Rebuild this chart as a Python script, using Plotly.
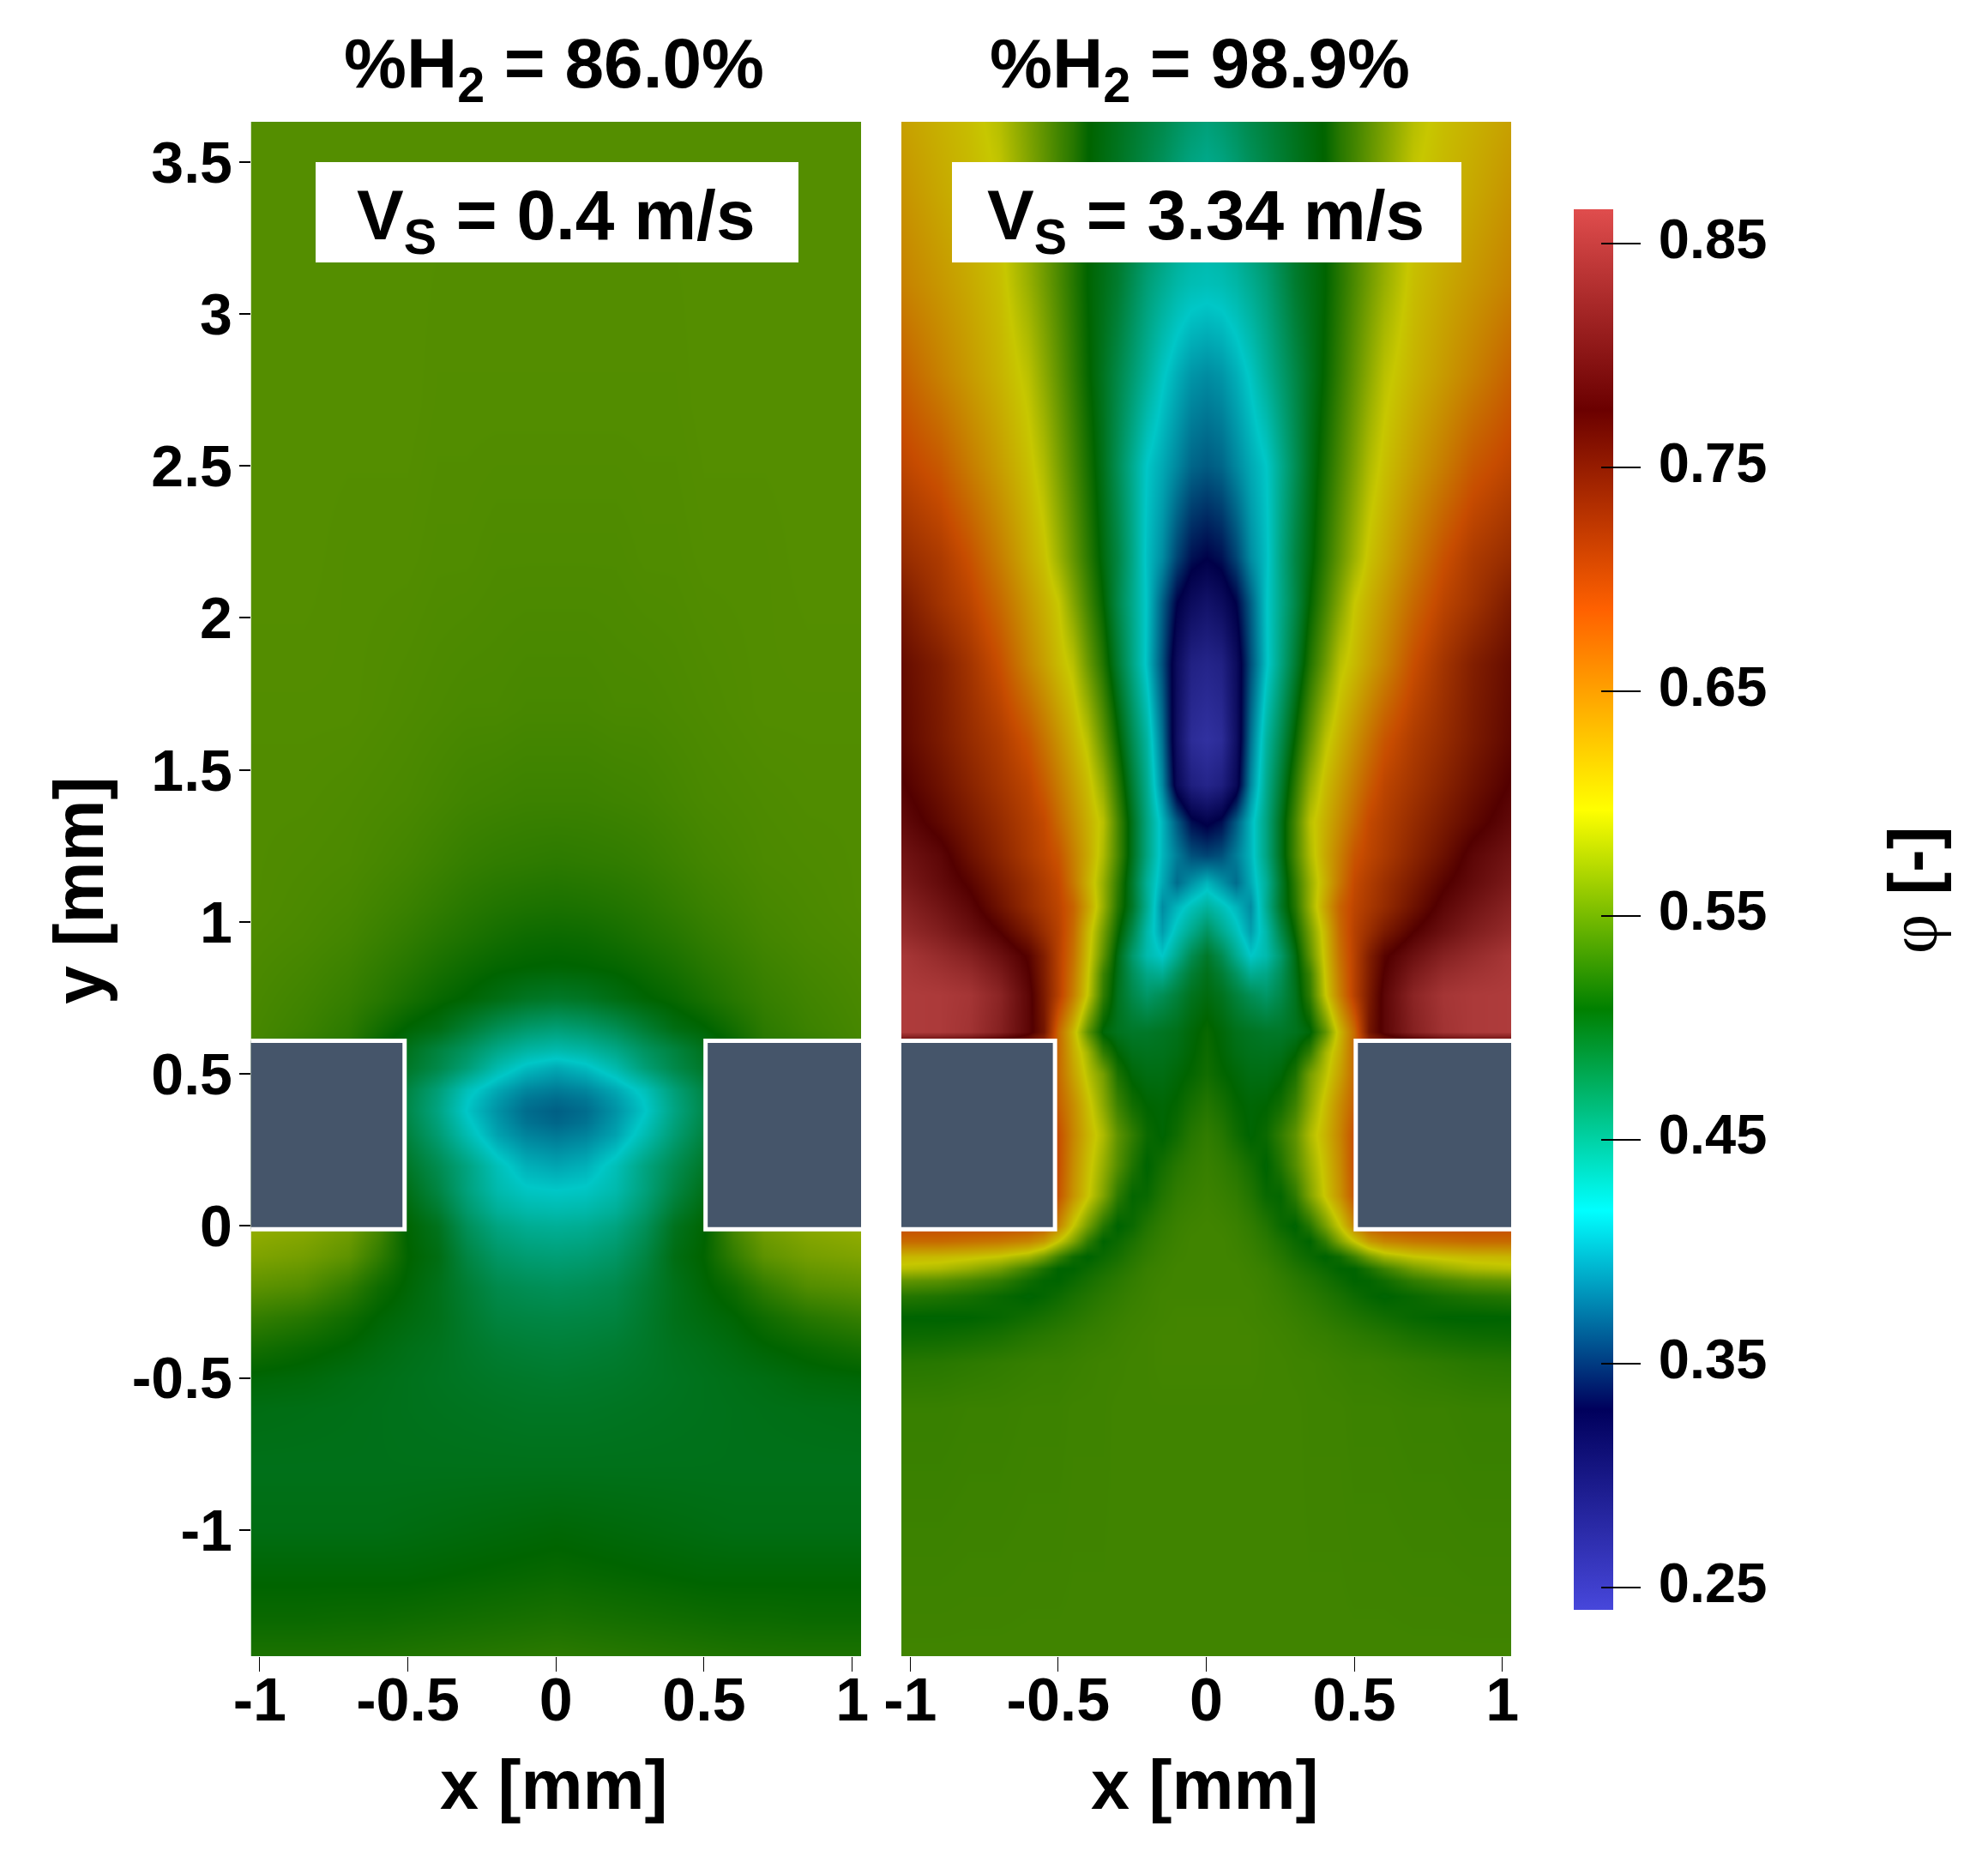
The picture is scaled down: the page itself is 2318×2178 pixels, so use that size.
import plotly.graph_objects as go

W, H = 2318, 2178

# ---------- data ----------
titles = ["%H<sub>2</sub> = 86.0%", "%H<sub>2</sub> = 98.9%"]
speeds = ["V<sub>S</sub> = 0.4 m/s", "V<sub>S</sub> = 3.34 m/s"]
x_tick_vals = [-1, -0.5, 0, 0.5, 1]
x_tick_text = ["-1", "-0.5", "0", "0.5", "1"]
y_tick_vals = [-1, -0.5, 0, 0.5, 1, 1.5, 2, 2.5, 3, 3.5]
y_tick_text = ["-1", "-0.5", "0", "0.5", "1", "1.5", "2", "2.5", "3", "3.5"]
cbar_ticks = [0.25, 0.35, 0.45, 0.55, 0.65, 0.75, 0.85]
cmin, cmax = 0.24, 0.8654

left_x = [0, .1, .2, .3, .4, .5, .6, .7, .85, 1.03]
left_y = [3.65, 2.7, 2.2, 1.7, 1.4, 1.2, 1.05, .95, .85, .75, .65, .58, .52, .45, .42, .38, .34, .3, .2, .12, .05, 0,
          -.1, -.2, -.3, -.4, -.5, -.6, -.8, -1.0, -1.15, -1.3, -1.45]
left_phi = [
    [.546, .546, .546, .546, .546, .546, .546, .546, .546, .546],
    [.545, .545, .545, .545, .545, .546, .546, .546, .546, .546],
    [.543, .543, .543, .544, .544, .545, .545, .545, .546, .546],
    [.540, .540, .541, .541, .542, .543, .544, .545, .545, .545],
    [.535, .535, .536, .537, .539, .541, .542, .543, .544, .544],
    [.528, .529, .530, .532, .535, .538, .540, .542, .543, .544],
    [.520, .521, .523, .526, .530, .534, .537, .540, .542, .544],
    [.513, .514, .517, .521, .525, .530, .534, .538, .541, .543],
    [.507, .508, .510, .514, .519, .525, .530, .535, .539, .542],
    [.490, .493, .500, .507, .512, .519, .526, .532, .537, .541],
    [.455, .460, .470, .485, .500, .507, .517, .528, .535, .540],
    [.430, .435, .447, .465, .480, .495, .510, .525, .530, .540],
    [.405, .413, .430, .455, .475, .490, .520, .530, .540, .540],
    [.385, .390, .405, .425, .455, .478, .520, .530, .540, .540],
    [.378, .383, .399, .420, .452, .476, .520, .530, .540, .540],
    [.372, .378, .395, .417, .450, .475, .520, .530, .540, .540],
    [.375, .381, .398, .422, .453, .477, .520, .530, .540, .540],
    [.383, .388, .402, .428, .457, .480, .520, .530, .540, .540],
    [.403, .408, .425, .450, .472, .490, .520, .530, .540, .540],
    [.418, .420, .430, .452, .478, .497, .520, .530, .540, .540],
    [.430, .432, .440, .460, .487, .503, .520, .530, .540, .540],
    [.440, .442, .450, .468, .495, .507, .540, .560, .570, .575],
    [.455, .457, .463, .478, .500, .509, .530, .550, .560, .565],
    [.468, .470, .474, .485, .497, .506, .515, .530, .545, .550],
    [.477, .478, .480, .488, .497, .502, .507, .515, .525, .532],
    [.483, .484, .486, .490, .495, .498, .502, .507, .512, .518],
    [.488, .489, .490, .492, .494, .496, .498, .500, .504, .506],
    [.492, .492, .493, .494, .495, .496, .497, .498, .499, .500],
    [.497, .497, .497, .497, .497, .497, .497, .497, .497, .497],
    [.506, .505, .504, .503, .502, .501, .500, .500, .500, .500],
    [.512, .511, .510, .509, .508, .507, .507, .507, .507, .507],
    [.520, .519, .518, .517, .516, .515, .514, .514, .513, .513],
    [.530, .529, .528, .527, .526, .525, .524, .523, .523, .523],
]

right_x = [0, .05, .1, .15, .2, .25, .3, .35, .4, .45, .5, .55, .6, .7, .8, .9, 1.03]
right_y = [3.65, 3.4, 3.1, 2.8, 2.5, 2.2, 2.05, 1.85, 1.6, 1.45, 1.33, 1.22, 1.13, 1.05, .97, .89, .83, .76, .64, .57,
           .5, .4, .3, .2, .1, 0, -.05, -.1, -.14, -.18, -.23, -.3, -.36, -.45, -.6, -1.45]
right_phi = [
    [.455, .460, .467, .475, .482, .489, .496, .503, .510, .526, .537, .550, .563, .589, .604, .613, .625],
    [.440, .444, .453, .464, .474, .483, .492, .500, .509, .525, .539, .553, .568, .597, .609, .620, .635],
    [.425, .427, .433, .443, .455, .471, .487, .498, .508, .525, .542, .559, .576, .604, .619, .632, .648],
    [.392, .396, .407, .421, .440, .458, .476, .494, .511, .531, .551, .571, .591, .612, .630, .648, .672],
    [.370, .375, .390, .405, .418, .444, .470, .496, .519, .541, .563, .586, .603, .628, .652, .677, .695],
    [.330, .337, .360, .392, .414, .448, .478, .502, .528, .553, .578, .602, .618, .651, .683, .707, .725],
    [.300, .310, .330, .372, .416, .446, .476, .509, .538, .567, .597, .614, .631, .666, .696, .716, .745],
    [.270, .276, .310, .365, .414, .450, .486, .523, .556, .590, .607, .626, .645, .685, .715, .740, .762],
    [.250, .258, .305, .380, .436, .472, .511, .551, .590, .614, .636, .658, .680, .706, .725, .745, .768],
    [.270, .280, .315, .390, .444, .485, .528, .573, .606, .629, .652, .675, .695, .715, .735, .755, .778],
    [.325, .335, .370, .410, .450, .495, .540, .590, .615, .640, .665, .690, .703, .725, .746, .766, .790],
    [.360, .365, .385, .410, .450, .495, .540, .585, .620, .650, .680, .695, .708, .733, .757, .785, .805],
    [.410, .395, .378, .405, .440, .488, .530, .575, .615, .655, .690, .705, .720, .745, .772, .792, .815],
    [.437, .425, .410, .392, .443, .490, .525, .575, .625, .670, .695, .710, .725, .755, .785, .805, .828],
    [.465, .445, .425, .400, .432, .475, .513, .560, .610, .665, .700, .722, .745, .776, .800, .820, .840],
    [.490, .472, .444, .418, .430, .460, .500, .550, .605, .660, .700, .740, .772, .800, .825, .840, .858],
    [.497, .485, .465, .442, .447, .468, .498, .535, .600, .655, .700, .742, .778, .815, .840, .851, .861],
    [.502, .495, .482, .470, .462, .475, .495, .530, .595, .650, .700, .745, .785, .830, .855, .862, .865],
    [.512, .505, .497, .493, .490, .490, .495, .505, .550, .610, .665, .750, .785, .825, .852, .862, .865],
    [.514, .507, .500, .496, .495, .497, .507, .530, .580, .617, .665, .700, .700, .700, .700, .700, .700],
    [.516, .510, .505, .500, .500, .505, .520, .560, .590, .625, .665, .700, .700, .700, .700, .700, .700],
    [.524, .518, .510, .506, .508, .516, .535, .570, .605, .640, .672, .700, .700, .700, .700, .700, .700],
    [.530, .525, .515, .507, .513, .530, .550, .585, .612, .645, .685, .700, .700, .700, .700, .700, .700],
    [.533, .530, .525, .517, .507, .522, .545, .575, .605, .640, .685, .700, .700, .700, .700, .700, .700],
    [.535, .533, .530, .523, .512, .510, .528, .565, .600, .635, .680, .700, .700, .700, .700, .700, .700],
    [.537, .536, .534, .530, .523, .513, .507, .525, .560, .597, .645, .675, .685, .690, .690, .690, .690],
    [.537, .537, .535, .532, .527, .520, .513, .508, .530, .565, .597, .630, .645, .655, .660, .665, .665],
    [.537, .537, .536, .534, .530, .525, .518, .513, .507, .515, .535, .560, .580, .596, .603, .608, .610],
    [.537, .537, .537, .535, .533, .528, .523, .518, .513, .508, .508, .520, .535, .560, .575, .585, .590],
    [.537, .537, .537, .536, .534, .531, .527, .523, .518, .513, .508, .509, .515, .530, .540, .548, .552],
    [.537, .537, .537, .537, .535, .533, .530, .527, .523, .519, .514, .510, .507, .512, .518, .522, .525],
    [.538, .538, .538, .537, .536, .535, .533, .531, .528, .525, .522, .519, .516, .511, .508, .507, .508],
    [.538, .538, .538, .538, .537, .536, .535, .533, .532, .530, .528, .526, .524, .519, .516, .514, .513],
    [.538, .538, .538, .538, .537, .537, .536, .536, .535, .534, .533, .533, .532, .530, .528, .526, .525],
    [.537, .537, .537, .537, .537, .537, .537, .536, .536, .536, .535, .535, .535, .534, .534, .533, .533],
    [.537, .537, .537, .537, .537, .537, .537, .537, .537, .537, .537, .537, .537, .537, .537, .537, .537],
]

# ParaView "rainbow desaturated" colour map
cmap_pos = [0, .143, .285, .429, .571, .714, .857, 1]
cmap_rgb = [(71, 71, 219), (0, 0, 92), (0, 255, 255), (0, 128, 0),
            (255, 255, 0), (255, 97, 0), (107, 0, 0), (224, 77, 77)]
field_dim = 0.78  # the rendered field is darker than its colour bar
block_color = "#45556a"

# ---------- helpers ----------
def mirror_x(xs):
    return [-v for v in xs[:0:-1]] + list(xs)

def mirror_rows(rows):
    return [list(r[:0:-1]) + list(r) for r in rows]

def px(v):
    return v / W

def py(v):
    return 1 - v / H

full_scale = [[p, "rgb(%d,%d,%d)" % c] for p, c in zip(cmap_pos, cmap_rgb)]
dim_scale = [[p, "rgb(%d,%d,%d)" % tuple(round(k * field_dim) for k in c)] for p, c in zip(cmap_pos, cmap_rgb)]

FONT = "Liberation Sans"
fig = go.Figure()

for idx, (xs, ys, zs) in enumerate([(left_x, left_y, left_phi), (right_x, right_y, right_phi)]):
    assert all(len(r) == len(xs) for r in zs) and len(ys) == len(zs)
    fig.add_trace(go.Heatmap(
        x=mirror_x(xs), y=ys[::-1], z=mirror_rows(zs)[::-1],
        colorscale=dim_scale, zmin=cmin, zmax=cmax, zsmooth="best", showscale=False,
        xaxis="x" if idx == 0 else "x2", yaxis="y" if idx == 0 else "y2",
        hoverinfo="skip"))

# colour bar: a labels bar whose text sits a little above the tick marks (as in the reference),
# a bar with the outside tick marks, and a bar for the stubs inside the colour strip
label_lift = 0.0023
bars = [
    dict(tickvals=[v + label_lift for v in cbar_ticks], ticks="outside", ticklen=32,
         tickcolor="rgba(0,0,0,0)", labels=True),
    dict(tickvals=cbar_ticks, ticks="outside", ticklen=32, tickcolor="black", labels=False),
    dict(tickvals=cbar_ticks, ticks="inside", ticklen=14, tickcolor="black", labels=False),
]
for bar in bars:
    fig.add_trace(go.Scatter(
        x=[None], y=[None], mode="markers", showlegend=False, hoverinfo="skip",
        marker=dict(color=[cmin], cmin=cmin, cmax=cmax, colorscale=full_scale, showscale=True,
                    colorbar=dict(
                        x=px(1835), xanchor="left", y=py(244), yanchor="top",
                        thickness=46, thicknessmode="pixels", len=1633, lenmode="pixels",
                        xpad=0, ypad=0, outlinewidth=0, borderwidth=0,
                        tickmode="array", tickvals=bar["tickvals"],
                        ticktext=['<span style="font-size:30px">\u00a0</span>%.2f' % v for v in cbar_ticks],
                        ticks=bar["ticks"], ticklen=bar["ticklen"], tickwidth=2, tickcolor=bar["tickcolor"],
                        showticklabels=bar["labels"],
                        tickfont=dict(family=FONT, size=65, color="black", weight=600)))))

tickfont = dict(family=FONT, size=70, color="black", weight="bold")
common_x = dict(range=[-1.03, 1.03], tickmode="array", tickvals=x_tick_vals, ticktext=x_tick_text,
                ticks="outside", ticklen=17, tickwidth=1, tickcolor="black", tickfont=tickfont,
                ticklabelstandoff=-27, showgrid=False, zeroline=False, showline=False, tickangle=0)
common_y = dict(range=[-1.415, 3.632], showgrid=False, zeroline=False, showline=False)

fig.update_layout(
    width=W, height=H, margin=dict(l=0, r=0, t=0, b=0, autoexpand=False),
    paper_bgcolor="white", plot_bgcolor="white", showlegend=False,
    xaxis=dict(domain=[px(292.5), px(1004)], anchor="y", **common_x),
    xaxis2=dict(domain=[px(1051), px(1762)], anchor="y2", **common_x),
    yaxis=dict(domain=[py(1931), py(142)], anchor="x", tickmode="array", tickvals=y_tick_vals,
               ticktext=y_tick_text, ticks="outside", ticklen=13, tickwidth=2, tickcolor="black",
               tickfont=dict(family=FONT, size=68, color="black", weight="bold"),
               ticklabelstandoff=-6, **common_y),
    yaxis2=dict(domain=[py(1931), py(142)], anchor="x2", showticklabels=False, ticks="", **common_y),
)

# solid blocks either side of the slot, in axis coordinates
shapes = []
for xr, yr in [("x", "y"), ("x2", "y2")]:
    for x0, x1 in [(-1.06, -0.511), (0.505, 1.06)]:
        shapes.append(dict(type="rect", xref=xr, yref=yr, x0=x0, x1=x1, y0=-0.011, y1=0.609,
                           fillcolor=block_color, line=dict(color="white", width=5), layer="above"))
# white boxes behind the speed labels
for x0, x1 in [(368, 931), (1110, 1704)]:
    shapes.append(dict(type="rect", xref="paper", yref="paper", x0=px(x0), x1=px(x1), y0=py(306), y1=py(189),
                       fillcolor="white", line=dict(width=0), layer="above"))
fig.update_layout(shapes=shapes)

bold = dict(family=FONT, color="black", weight="bold")
def note(text, x, y, size, angle=0):
    fig.add_annotation(text=text, xref="paper", yref="paper", x=px(x), y=py(y), showarrow=False,
                       xanchor="center", yanchor="middle", textangle=angle, font=dict(size=size, **bold))

note(titles[0], 646, 80, 82)
note(titles[1], 1399, 80, 82)
note(speeds[0], 648, 256, 82)
note(speeds[1], 1406, 256, 82)
note("x [mm]", 646, 2081, 81)
note("x [mm]", 1405, 2081, 81)
note("y [mm]", 92, 1038, 81, -90)
note('<span style="font-family:Liberation Serif;font-weight:normal">φ</span> [-]', 2230, 1038, 80, -90)

fig.write_html("out.html", config={"displayModeBar": False}, post_script="document.body.style.margin='0';")
